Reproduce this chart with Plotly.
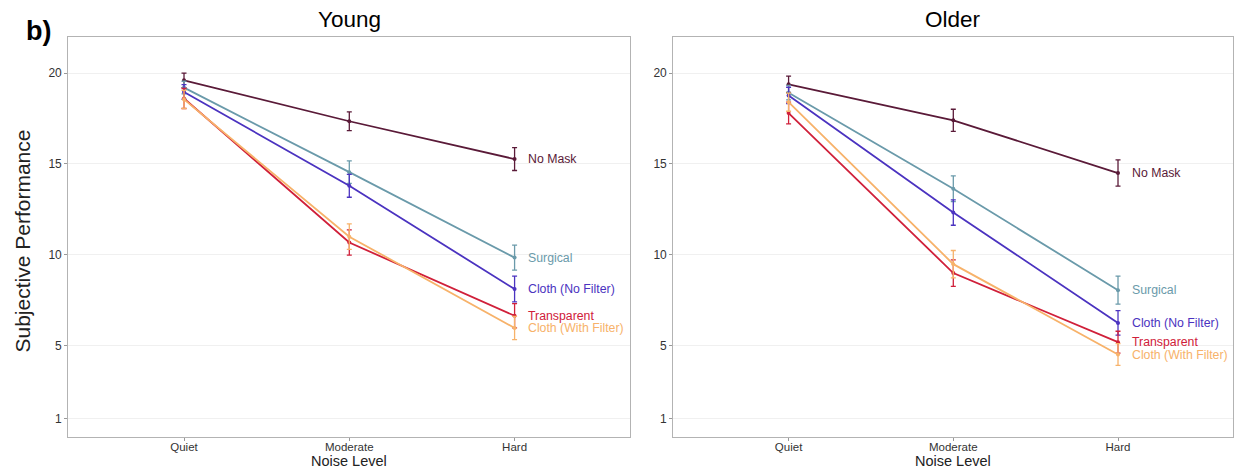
import plotly.graph_objects as go

W, H = 1234, 473

levels = ["Quiet", "Moderate", "Hard"]
masks = ["No Mask", "Surgical", "Cloth (No Filter)", "Transparent", "Cloth (With Filter)"]
colors = ["#5A1A38", "#6A9AAA", "#4B33C0", "#D0203A", "#F7B26A"]

young_mean = {
    "No Mask": [19.6, 17.35, 15.27],
    "Surgical": [19.2, 14.55, 9.85],
    "Cloth (No Filter)": [18.96, 13.8, 8.12],
    "Transparent": [18.6, 10.68, 6.65],
    "Cloth (With Filter)": [18.55, 11.0, 5.98],
}
young_err = {
    "No Mask": [0.4, 0.52, 0.63],
    "Surgical": [0.35, 0.62, 0.69],
    "Cloth (No Filter)": [0.4, 0.63, 0.71],
    "Transparent": [0.55, 0.69, 0.67],
    "Cloth (With Filter)": [0.5, 0.7, 0.64],
}
older_mean = {
    "No Mask": [19.38, 17.4, 14.5],
    "Surgical": [18.92, 13.64, 8.06],
    "Cloth (No Filter)": [18.77, 12.33, 6.26],
    "Transparent": [17.8, 9.0, 5.2],
    "Cloth (With Filter)": [18.4, 9.49, 4.52],
}
older_err = {
    "No Mask": [0.45, 0.61, 0.72],
    "Surgical": [0.4, 0.71, 0.77],
    "Cloth (No Filter)": [0.45, 0.7, 0.67],
    "Transparent": [0.6, 0.73, 0.6],
    "Cloth (With Filter)": [0.5, 0.75, 0.6],
}

y_ticks = [1, 5, 10, 15, 20]
panel_titles = ["Young", "Older"]

FONT = "Liberation Sans, Arial, sans-serif"
xpos = [1, 2, 3]

fig = go.Figure()

panels = [(young_mean, young_err, "x", "y"), (older_mean, older_err, "x2", "y2")]
for mean, err, xa, ya in panels:
    for m, c in zip(masks, colors):
        fig.add_trace(go.Scatter(
            x=xpos, y=mean[m], xaxis=xa, yaxis=ya, mode="lines+markers",
            line=dict(color=c, width=1.8), marker=dict(color=c, size=4),
            error_y=dict(type="data", array=err[m], color=c, thickness=1.3, width=2.5),
            showlegend=False, hoverinfo="skip", cliponaxis=False))
        fig.add_annotation(x=xpos[-1] + 0.07, y=mean[m][-1], xref=xa, yref=ya,
                           text=m, showarrow=False, xanchor="left", yanchor="middle",
                           font=dict(family=FONT, size=12.3, color=c))

def px_x(p):
    return p / W

def px_y(p):
    return 1 - p / H

ydom = [px_y(436.7), px_y(36.7)]
xdom1 = [px_x(68.3), px_x(630.3)]
xdom2 = [px_x(673.3), px_x(1233.3)]

axis_common_x = dict(range=[0.3, 3.7], tickvals=xpos, ticktext=levels, showgrid=False,
                     zeroline=False, showline=True, linecolor="#B3B3B3", linewidth=1.2,
                     mirror=True, ticks="outside", ticklen=3, tickcolor="#999999",
                     ticklabelstandoff=-4,
                     tickfont=dict(family=FONT, size=11.5, color="#333333"))
axis_common_y = dict(range=[0, 22], tickvals=y_ticks, showgrid=True, gridcolor="#F0F0F0",
                     gridwidth=1, zeroline=False, showline=True, linecolor="#B3B3B3",
                     linewidth=1.2, mirror=True, ticks="outside", ticklen=3,
                     tickcolor="#999999", tickfont=dict(family=FONT, size=12, color="#333333"))

fig.update_layout(
    width=W, height=H,
    margin=dict(l=0, r=0, t=0, b=0),
    paper_bgcolor="white", plot_bgcolor="white",
    xaxis=dict(domain=xdom1, anchor="y", **axis_common_x),
    yaxis=dict(domain=ydom, anchor="x", **axis_common_y),
    xaxis2=dict(domain=xdom2, anchor="y2", **axis_common_x),
    yaxis2=dict(domain=ydom, anchor="x2", **axis_common_y),
)

for dom, title in zip([xdom1, xdom2], panel_titles):
    cx = (dom[0] + dom[1]) / 2
    fig.add_annotation(x=cx, y=px_y(19), xref="paper", yref="paper", text=title,
                       showarrow=False, xanchor="center", yanchor="middle",
                       font=dict(family=FONT, size=22.5, color="black"))
    fig.add_annotation(x=cx, y=px_y(461), xref="paper", yref="paper", text="Noise Level",
                       showarrow=False, xanchor="center", yanchor="middle",
                       font=dict(family=FONT, size=14.5, color="#222222"))

fig.add_annotation(x=px_x(22), y=px_y(241.5), xref="paper", yref="paper",
                   text="Subjective Performance", showarrow=False, textangle=-90,
                   xanchor="center", yanchor="middle",
                   font=dict(family=FONT, size=21, color="#222222"))

fig.add_annotation(x=px_x(24), y=px_y(31), xref="paper", yref="paper", text="<b>b)</b>",
                   showarrow=False, xanchor="left", yanchor="middle",
                   font=dict(family=FONT, size=27, color="black"))

fig.write_html(
    "out.html",
    config={"displayModeBar": False},
    post_script="document.body.style.margin='0';document.body.style.padding='0';"
                "document.body.style.overflow='hidden';",
)
